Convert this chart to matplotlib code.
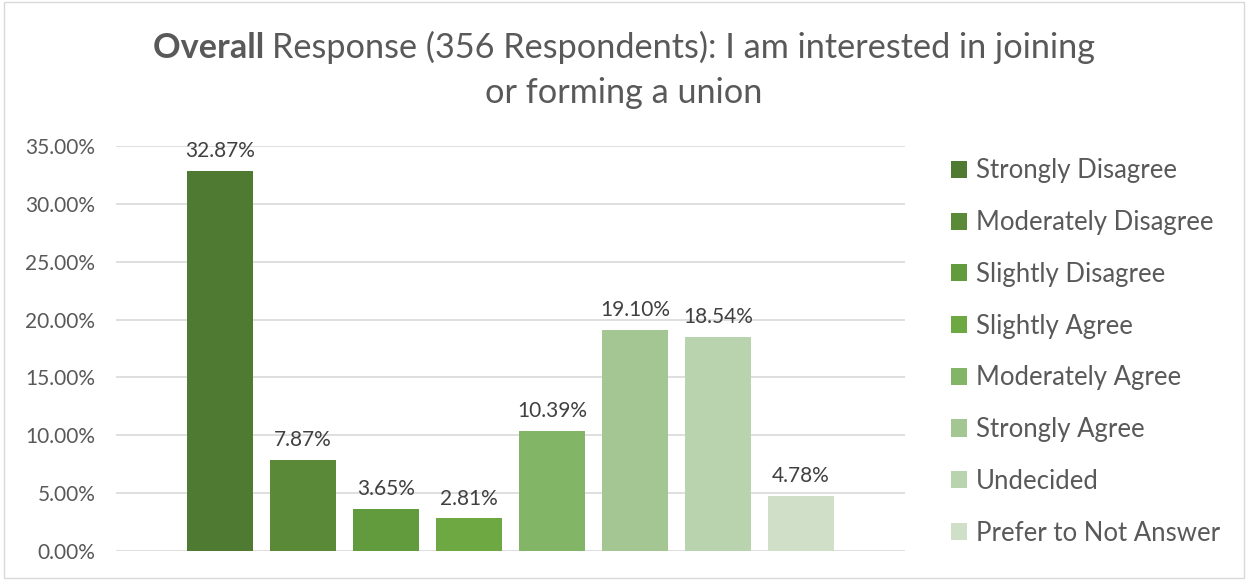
import matplotlib.pyplot as plt
from matplotlib.patches import Rectangle
from matplotlib.ticker import FuncFormatter

# Survey responses
categories = ['Strongly Disagree', 'Moderately Disagree', 'Slightly Disagree',
              'Slightly Agree', 'Moderately Agree', 'Strongly Agree',
              'Undecided', 'Prefer to Not Answer']
shares = [32.87, 7.87, 3.65, 2.81, 10.39, 19.10, 18.54, 4.78]
colors = ['#4E7A31', '#5A8A38', '#629A3E', '#6EA843',
          '#83B567', '#A4C693', '#B8D3AD', '#D0E0C8']

plt.rcParams['font.family'] = ['Lato', 'DejaVu Sans']

fig = plt.figure(figsize=(12.48, 5.8), dpi=100)
ax = fig.add_axes([0.093, 0.05, 0.632, 0.698])

for i, (cat, val, col) in enumerate(zip(categories, shares, colors)):
    ax.bar(i, val, width=0.8, color=col, label=cat, zorder=3)
    ax.annotate(f'{val:.2f}%', (i, val), xytext=(0, 7), textcoords='offset points',
                ha='center', va='bottom', fontsize=15, color='#404040')

ax.set_ylim(0, 35)
ax.set_xlim(-1.25, 8.25)
ax.set_yticks(range(0, 36, 5))
ax.yaxis.set_major_formatter(FuncFormatter(lambda v, p: f'{v:.2f}%'))
ax.set_xticks([])
ax.grid(axis='y', color='#D9D9D9', linewidth=1.2, zorder=0)
for s in ax.spines.values():
    s.set_visible(False)
ax.tick_params(axis='y', length=0, pad=15, labelsize=15, labelcolor='#595959')

leg = ax.legend(loc='upper left', bbox_to_anchor=(1.045, 0.995), frameon=False,
                fontsize=18.5, labelcolor='#595959', handlelength=0.65,
                handleheight=0.65, handletextpad=0.35, labelspacing=1.04,
                borderaxespad=0)

# Title: bold first word followed by regular text, centred as one line
title_y = 0.918
fs = 24.7
t1 = fig.text(0.5, title_y, 'Response (356 Respondents): I am interested in joining',
              ha='left', va='center', fontsize=fs, color='#595959')
t0 = fig.text(0, title_y, 'Overall ', ha='left', va='center', fontsize=fs,
              color='#595959', fontweight='bold')
fig.canvas.draw()
r = fig.canvas.get_renderer()
w1 = t1.get_window_extent(r).width
w0 = t0.get_window_extent(r).width
left = (fig.bbox.width - (w0 + w1)) / 2
t0.set_x(left / fig.bbox.width)
t1.set_x((left + w0) / fig.bbox.width)
fig.text(0.5, 0.84, 'or forming a union', ha='center', va='center',
         fontsize=fs, color='#595959')

fig.patches.append(Rectangle((0.003, 0.003), 0.994, 0.994, transform=fig.transFigure,
                             fill=False, edgecolor='#D9D9D9', linewidth=1))

fig.savefig('out.png', dpi=100)
